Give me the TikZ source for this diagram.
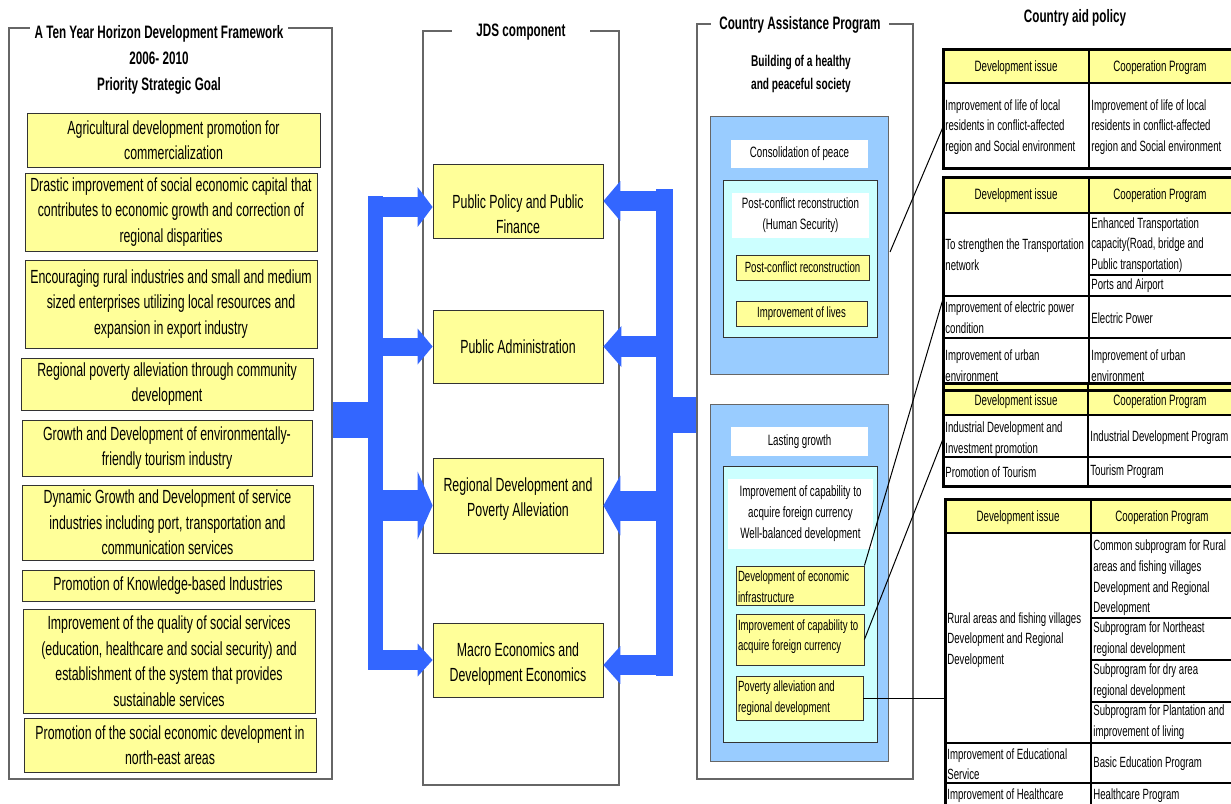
\documentclass[tikz,border=0pt]{standalone}
\usepackage{fontspec}
\setmainfont{Liberation Sans}[FakeStretch=0.65]
\usepackage{tikz}
\usetikzlibrary{arrows.meta,positioning}
\definecolor{goalyellow}{HTML}{FFFF99}
\definecolor{arrowblue}{HTML}{3366FF}
\definecolor{cabblue}{HTML}{99CCFF}
\definecolor{cabcyan}{HTML}{CCFFFF}
\definecolor{framegray}{HTML}{666666}
\definecolor{edgegray}{HTML}{333333}
\newcommand{\setfs}[2]{\fontsize{#1}{#2}\selectfont}
\tikzset{
  goal/.style={
    rectangle, draw=edgegray, fill=goalyellow, align=center,
    inner sep=1pt, font=\setfs{9.5}{12.75}
  },
  jds/.style={goal},
  colframe/.style={rectangle, draw=framegray, line width=0.6pt},
  frametitle/.style={
    fill=white, inner ysep=1pt, align=center, font=\setfs{9}{13}\bfseries
  },
  cabbox/.style={rectangle, draw=framegray, fill=cabblue},
  cabinner/.style={rectangle, draw=edgegray, fill=cabcyan},
  cabtext/.style={
    rectangle, fill=white, align=center, inner sep=1pt, font=\setfs{7.5}{10.5}
  },
  cabitem/.style={
    rectangle, draw=edgegray, fill=goalyellow, inner xsep=1pt,
    inner ysep=0pt, font=\setfs{7.4}{10.2}
  },
  cabitemtext/.style={anchor=west, align=left, inner sep=1pt, font=\setfs{7.4}{10.3}},
  bus/.style={draw=arrowblue, line width=#1},
  barrow/.style n args={3}{
    draw=arrowblue, line width=#1,
    -{Triangle[length=#3, width=#2, line width=0pt]}
  },
  link/.style={draw=black, line width=0.5pt},
  tabouter/.style={draw=black, line width=1.5pt},
  tabline/.style={draw=black, line width=0.6pt},
  tabhead/.style={inner sep=1pt, font=\setfs{7.5}{10.3}},
  tabcell/.style={anchor=west, align=left, inner sep=1pt, font=\setfs{7.4}{10.3}}
}

\begin{document}
\begin{tikzpicture}[x=0.5pt, y=-0.5pt]
\clip (0,0) rectangle (1231,803);

% left column: priority strategic goals
\node[colframe, minimum width=161.5pt, minimum height=375.5pt] (lframe) at (170.5,403.5) {};
\node[frametitle, inner xsep=2.5pt, anchor=north] (ltitle) at (159,23)
  {A Ten Year Horizon Development Framework\\2006- 2010\\Priority Strategic Goal};

\node[goal, minimum width=146.5pt, minimum height=27pt] (g1) at (173.5,140)
  {Agricultural development promotion for\\commercialization};
\node[goal, minimum width=146pt, minimum height=39pt] (g2) at (171,212)
  {Drastic improvement of social economic capital that\\contributes to economic growth and correction of\\regional disparities};
\node[goal, minimum width=146pt, minimum height=44pt] (g3) at (171,304)
  {Encouraging rural industries and small and medium\\sized enterprises utilizing local resources and\\expansion in export industry};
\node[goal, minimum width=146pt, minimum height=26pt] (g4) at (167,384)
  {Regional poverty alleviation through community\\development};
\node[goal, minimum width=145pt, minimum height=28pt] (g5) at (167,448)
  {Growth and Development of environmentally-\\friendly tourism industry};
\node[goal, minimum width=145.5pt, minimum height=37.5pt] (g6) at (167.5,522.5)
  {Dynamic Growth and Development of service\\industries including port, transportation and\\communication services};
\node[goal, minimum width=146pt, minimum height=15.5pt] (g7) at (168,585.5)
  {Promotion of Knowledge-based Industries};
\node[goal, minimum width=146pt, minimum height=52pt] (g8) at (169,661)
  {Improvement of the quality of social services\\(education, healthcare and social security) and\\establishment of the system that provides\\sustainable services};
\node[goal, minimum width=146pt, minimum height=27pt] (g9) at (170,745)
  {Promotion of the social economic development in\\north-east areas};

% middle column: JDS components
\node[colframe, minimum width=98pt, minimum height=377pt] (jframe) at (521,408) {};
\node[frametitle, inner xsep=12pt] (jtitle) at (521,32) {JDS component};

\node[jds, minimum width=85pt, text height=33.75pt, text depth=1.25pt] (j1) at (518,201)
  {Public Policy and Public\\Finance};
\node[jds, minimum width=85pt, minimum height=36.5pt] (j2) at (518,346.5)
  {Public Administration};
\node[jds, minimum width=85pt, text height=28.25pt, text depth=17.25pt] (j3) at (518,505.5)
  {Regional Development and\\Poverty Alleviation};
\node[jds, minimum width=85pt, text height=28.25pt, text depth=6.75pt] (j4) at (518,660)
  {Macro Economics and\\Development Economics};

% right column: country assistance program
\node[colframe, minimum width=108pt, minimum height=377.5pt] (cframe) at (805,401.5) {};
\node[frametitle, inner xsep=4pt] (ctitle) at (800,25) {Country Assistance Program};
\node[font=\setfs{7.8}{11.5}\bfseries, align=center] (cgoal) at (801,74)
  {Building of a healthy\\and peaceful society};

\node[cabbox, minimum width=89pt, minimum height=129pt] (ub) at (799,245) {};
\node[cabtext, minimum width=68.5pt, minimum height=14pt] (cons) at (799.5,154) {Consolidation of peace};
\node[cabinner, minimum width=77pt, minimum height=78.5pt] (ui) at (800,258.5) {};
\node[cabtext, minimum width=68.5pt, minimum height=22.5pt] (uw) at (800.5,215.5)
  {Post-conflict reconstruction\\(Human Security)};
\node[cabitem, minimum width=66.5pt, minimum height=12.5pt] (uy1) at (802.5,267.5)
  {Post-conflict reconstruction};
\node[cabitem, minimum width=65.5pt, minimum height=12.5pt] (uy2) at (801.5,313.5)
  {Improvement of lives};

\node[cabbox, minimum width=89pt, minimum height=178.5pt] (lb) at (799,582.5) {};
\node[cabtext, minimum width=68.5pt, minimum height=14.5pt] (grow) at (799.5,441.5) {Lasting growth};
\node[cabinner, minimum width=77pt, minimum height=138pt] (li) at (800,604) {};
\node[cabtext, minimum width=72.5pt, minimum height=35pt] (lw) at (800.5,514)
  {Improvement of capability to\\acquire foreign currency\\Well-balanced development};
\node[cabitem, minimum width=64pt, minimum height=19.5pt] (ly1) at (800,585.5) {};
\node[cabitemtext] (ly1t) at ([yshift=-0.5pt]ly1.west) {Development of economic\\infrastructure};
\node[cabitem, minimum width=64pt, minimum height=25.5pt] (ly2) at (800,639.5) {};
\node[cabitemtext] (ly2t) at ([yshift=1.5pt]ly2.west) {Improvement of capability to\\acquire foreign currency};
\node[cabitem, minimum width=63.5pt, minimum height=22pt] (ly3) at (799.5,698) {};
\node[cabitemtext] (ly3t) at (ly3.west) {Poverty alleviation and\\regional development};

% blue arrows into the JDS components
\coordinate (lhub) at (375.5,420);
\coordinate (lbusT) at (375.5,196);
\coordinate (lbusB) at (375.5,670);
\draw[bus=7.5pt] (lbusT) -- (lbusB);
\draw[bus=18pt] (lframe.east |- lhub) -- (lhub);
\coordinate (j1l) at ([yshift=-3pt]j1.west);
\draw[barrow={10pt}{20pt}{7.5pt}] (lhub |- j1l) -- (j1l);
\draw[barrow={9pt}{18pt}{7.5pt}] (lhub |- j2.west) -- (j2.west);
\draw[barrow={15.5pt}{34pt}{7.5pt}] (lhub |- j3.west) -- (j3.west);
\draw[barrow={10pt}{16.5pt}{7.5pt}] (lhub |- j4.west) -- (j4.west);

\coordinate (rhub) at (664.5,415);
\coordinate (rbusT) at (664.5,189);
\coordinate (rbusB) at (664.5,676);
\draw[bus=8.5pt] (rbusT) -- (rbusB);
\draw[bus=18pt] (cframe.west |- rhub) -- (rhub);
\draw[barrow={10pt}{20pt}{8.5pt}] (rhub |- j1.east) -- (j1.east);
\draw[barrow={10.5pt}{20.5pt}{9pt}] (rhub |- j2.east) -- (j2.east);
\draw[barrow={15pt}{30pt}{8.5pt}] (rhub |- j3.east) -- (j3.east);
\coordinate (j4r) at ([yshift=-2.5pt]j4.east);
\draw[barrow={10pt}{19pt}{8.5pt}] (rhub |- j4r) -- (j4r);

% country aid policy tables
\node[font=\setfs{9}{13}\bfseries] (ptitle) at (1075,18) {Country aid policy};

\fill[goalyellow] (943,49) rectangle (1234,83);
\draw[tabline, line width=1pt] (943,83) -- (1234,83) (1089,49) -- (1089,168);
\draw[tabouter] (943,49) rectangle (1234,168);
\node[tabhead] (t1h1) at (1016,68) {Development issue};
\node[tabhead] (t1h2) at (1160,68) {Cooperation Program};
\node[tabcell] (t1i1) at (943,127)
  {Improvement of life of local\\residents in conflict-affected\\region and Social environment};
\node[tabcell] (t1p1) at (1089,127)
  {Improvement of life of local\\residents in conflict-affected\\region and Social environment};

\fill[goalyellow] (943,177) rectangle (1234,213);
\draw[tabline] (943,213) -- (1234,213) (1089,275) -- (1234,275)
  (943,296) -- (1234,296) (943,338) -- (1234,338) (1089,177) -- (1089,383);
\draw[tabouter] (943,177) rectangle (1234,383);
\node[tabhead] (t2h1) at (1016,196) {Development issue};
\node[tabhead] (t2h2) at (1160,196) {Cooperation Program};
\node[tabcell] (t2i1) at (943,255) {To strengthen the Transportation\\network};
\node[tabcell] (t2p1) at (1089,245)
  {Enhanced Transportation\\capacity(Road, bridge and\\Public transportation)};
\node[tabcell] (t2p2) at (1089,286) {Ports and Airport};
\node[tabcell] (t2i2) at (943,318) {Improvement of electric power\\condition};
\node[tabcell] (t2p3) at (1089,318) {Electric Power};
\node[tabcell] (t2i3) at (943,366) {Improvement of urban\\environment};
\node[tabcell] (t2p4) at (1089,366) {Improvement of urban\\environment};

\fill[goalyellow] (943,383) rectangle (1234,415);
\draw[tabline] (943,415) -- (1234,415) (943,457) -- (1234,457) (1088,383) -- (1088,486);
\draw[tabouter] (943,390) -- (1234,390);
\draw[tabouter] (943,383) rectangle (1234,486);
\node[tabhead] (t3h1) at (1016,402) {Development issue};
\node[tabhead] (t3h2) at (1160,402) {Cooperation Program};
\node[tabcell] (t3i1) at (943,439) {Industrial Development and\\Investment promotion};
\node[tabcell] (t3p1) at (1088,438) {Industrial Development Program};
\node[tabcell] (t3i2) at (943,472) {Promotion of Tourism};
\node[tabcell] (t3p2) at (1088,472) {Tourism Program};

\fill[goalyellow] (945,499) rectangle (1234,533);
\draw[tabline] (945,533) -- (1234,533) (1091,618) -- (1234,618) (1091,660) -- (1234,660)
  (1091,702) -- (1234,702) (945,743) -- (1234,743) (945,783) -- (1234,783)
  (1091,499) -- (1091,830);
\draw[tabouter] (945,499) rectangle (1234,830);
\node[tabhead] (t4h1) at (1018,518) {Development issue};
\node[tabhead] (t4h2) at (1162,518) {Cooperation Program};
\node[tabcell] (t4i1) at (945,640)
  {Rural areas and fishing villages\\Development and Regional\\Development};
\node[tabcell] (t4p1) at (1091,578)
  {Common subprogram for Rural\\areas and fishing villages\\Development and Regional\\Development};
\node[tabcell] (t4p2) at (1091,639) {Subprogram for Northeast\\regional development};
\node[tabcell] (t4p3) at (1091,681) {Subprogram for dry area\\regional development};
\node[tabcell] (t4p4) at (1091,722) {Subprogram for Plantation and\\improvement of living};
\node[tabcell] (t4i2) at (945,764) {Improvement of Educational\\Service};
\node[tabcell] (t4p5) at (1091,764) {Basic Education Program};
\node[tabcell] (t4i3) at (945,796) {Improvement of Healthcare};
\node[tabcell] (t4p6) at (1091,796) {Healthcare Program};

% links from programs to the tables
\coordinate (ubpt) at (890,252);
\coordinate (t2pt) at (943,299);
\draw[link] (t1i1.west) -- (ubpt);
\draw[link] (t2pt) -- (ly1.north east);
\draw[link] (t3i1.west) -- (ly2.east);
\draw[link] (ly3.east) -- (ly3.east -| t4i1.west);
\end{tikzpicture}
\end{document}
